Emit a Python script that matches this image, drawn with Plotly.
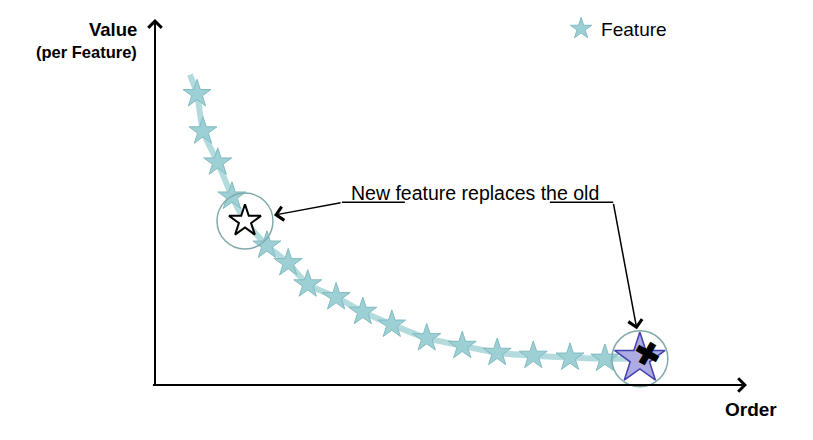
import plotly.graph_objects as go

# ---- data (Order position, Value) ----
feature_order = [7.1, 8.1, 10.6, 13.0, 15.2, 18.9, 22.5, 25.8, 30.6, 35.1, 40.0, 45.9, 51.9, 57.8, 63.9, 70.1, 76.0]
feature_value = [79.5, 69.3, 60.8, 51.5, 44.8, 38.1, 33.3, 27.5, 24.0, 20.0, 16.5, 12.8, 10.7, 8.8, 8.0, 7.5, 7.2]
old_index = 4                       # feature that gets replaced
new_order = [81.9]
new_value = [7.2]
trail_start_order = [5.9]
trail_start_value = [84.8]

label_x = "Order"
label_y = "Value"
label_y_sub = "(per Feature)"
legend_name = "Feature"
note_text = "New feature replaces the old"

FONT = "Arial, Liberation Sans, sans-serif"
TEAL = "#9dd0d5"
TEAL_EDGE = "#82bbc0"
TRAIL = "#b3dbde"
RING = "#82aaac"

kept_x = [x for i, x in enumerate(feature_order) if i != old_index]
kept_y = [y for i, y in enumerate(feature_value) if i != old_index]
old_x = [feature_order[old_index]]
old_y = [feature_value[old_index]]

fig = go.Figure()

# connecting trail
fig.add_trace(go.Scatter(
    x=trail_start_order + feature_order + new_order,
    y=trail_start_value + feature_value + new_value,
    mode="lines", line=dict(color=TRAIL, width=6, shape="spline", smoothing=0.6),
    hoverinfo="skip", showlegend=False, cliponaxis=False))

# features
fig.add_trace(go.Scatter(
    x=kept_x, y=kept_y, mode="markers", name=legend_name,
    marker=dict(symbol="star", size=21, color=TEAL, line=dict(color=TEAL_EDGE, width=1)),
    showlegend=True, cliponaxis=False))

# replaced (old) feature
fig.add_trace(go.Scatter(
    x=old_x, y=old_y, mode="markers",
    marker=dict(symbol="star", size=24, color="white", line=dict(color="black", width=2)),
    showlegend=False, cliponaxis=False))

# new feature
fig.add_trace(go.Scatter(
    x=new_order, y=new_value, mode="markers",
    marker=dict(symbol="star", size=38, color="#aeaae4", line=dict(color="#4341ad", width=1.5)),
    showlegend=False, cliponaxis=False))

# rings around old and new
fig.add_trace(go.Scatter(
    x=old_x + new_order, y=old_y + new_value, mode="markers",
    marker=dict(symbol="circle-open", size=56, color=RING, line=dict(color=RING, width=1.5)),
    showlegend=False, cliponaxis=False, hoverinfo="skip"))

annotations = []
# axis arrows
annotations.append(dict(x=100, y=0, ax=-0.6, ay=0, xref="x", yref="y", axref="x", ayref="y",
                        text="", showarrow=True, arrowhead=4, arrowsize=1.3, arrowwidth=2, arrowcolor="black"))
annotations.append(dict(x=0, y=100, ax=0, ay=-0.5, xref="x", yref="y", axref="x", ayref="y",
                        text="", showarrow=True, arrowhead=4, arrowsize=1.3, arrowwidth=2, arrowcolor="black"))
# pointer arrows
annotations.append(dict(x=20.1, y=46.4, ax=31.6, ay=49.9, xref="x", yref="y", axref="x", ayref="y",
                        text="", showarrow=True, arrowhead=4, arrowsize=1.8, arrowwidth=1.5, arrowcolor="black"))
annotations.append(dict(x=81.4, y=15.2, ax=77.4, ay=49.9, xref="x", yref="y", axref="x", ayref="y",
                        text="", showarrow=True, arrowhead=4, arrowsize=1.8, arrowwidth=1.5, arrowcolor="black"))
# labels
annotations.append(dict(x=32.7, y=52.5, xref="x", yref="y", text=note_text, showarrow=False,
                        xanchor="left", yanchor="middle", font=dict(family=FONT, size=19.5, color="black")))
annotations.append(dict(x=-0.027, y=0.971, xref="paper", yref="paper", text="<b>%s</b>" % label_y, showarrow=False,
                        xanchor="right", yanchor="middle", font=dict(family=FONT, size=18.5, color="black")))
annotations.append(dict(x=-0.027, y=0.909, xref="paper", yref="paper", text="<b>%s</b>" % label_y_sub, showarrow=False,
                        xanchor="right", yanchor="middle", font=dict(family=FONT, size=16.5, color="black")))
annotations.append(dict(x=1.0068, y=-0.067, xref="paper", yref="paper", text="<b>%s</b>" % label_x, showarrow=False,
                        xanchor="center", yanchor="middle", font=dict(family=FONT, size=19, color="black")))
# black mark on the new feature
annotations.append(dict(x=new_order[0], y=new_value[0], xref="x", yref="y", text="✖", showarrow=False,
                        xshift=8, yshift=5, textangle=-15, font=dict(family="DejaVu Sans", size=32, color="black")))

shapes = [
    dict(type="line", xref="x", yref="y", x0=31.6, x1=42.2, y0=49.9, y1=49.9, line=dict(color="black", width=1.5)),
    dict(type="line", xref="x", yref="y", x0=66.7, x1=77.4, y0=49.9, y1=49.9, line=dict(color="black", width=1.5)),
]

# the page body adds an 8px offset, so the figure is 8px smaller and margins shifted accordingly
fig.update_layout(
    width=805, height=432,
    margin=dict(l=147, r=66, t=2, b=55),
    paper_bgcolor="white", plot_bgcolor="white",
    xaxis=dict(range=[0, 100], showgrid=False, zeroline=False, showticklabels=False, showline=False, fixedrange=True),
    yaxis=dict(range=[0, 100], showgrid=False, zeroline=False, showticklabels=False, showline=False, fixedrange=True),
    showlegend=True,
    legend=dict(x=0.686, y=1.025, xanchor="left", yanchor="top", bgcolor="rgba(0,0,0,0)",
                font=dict(family=FONT, size=19, color="black")),
    annotations=annotations, shapes=shapes,
    font=dict(family=FONT),
)

fig.write_html("out.html")
